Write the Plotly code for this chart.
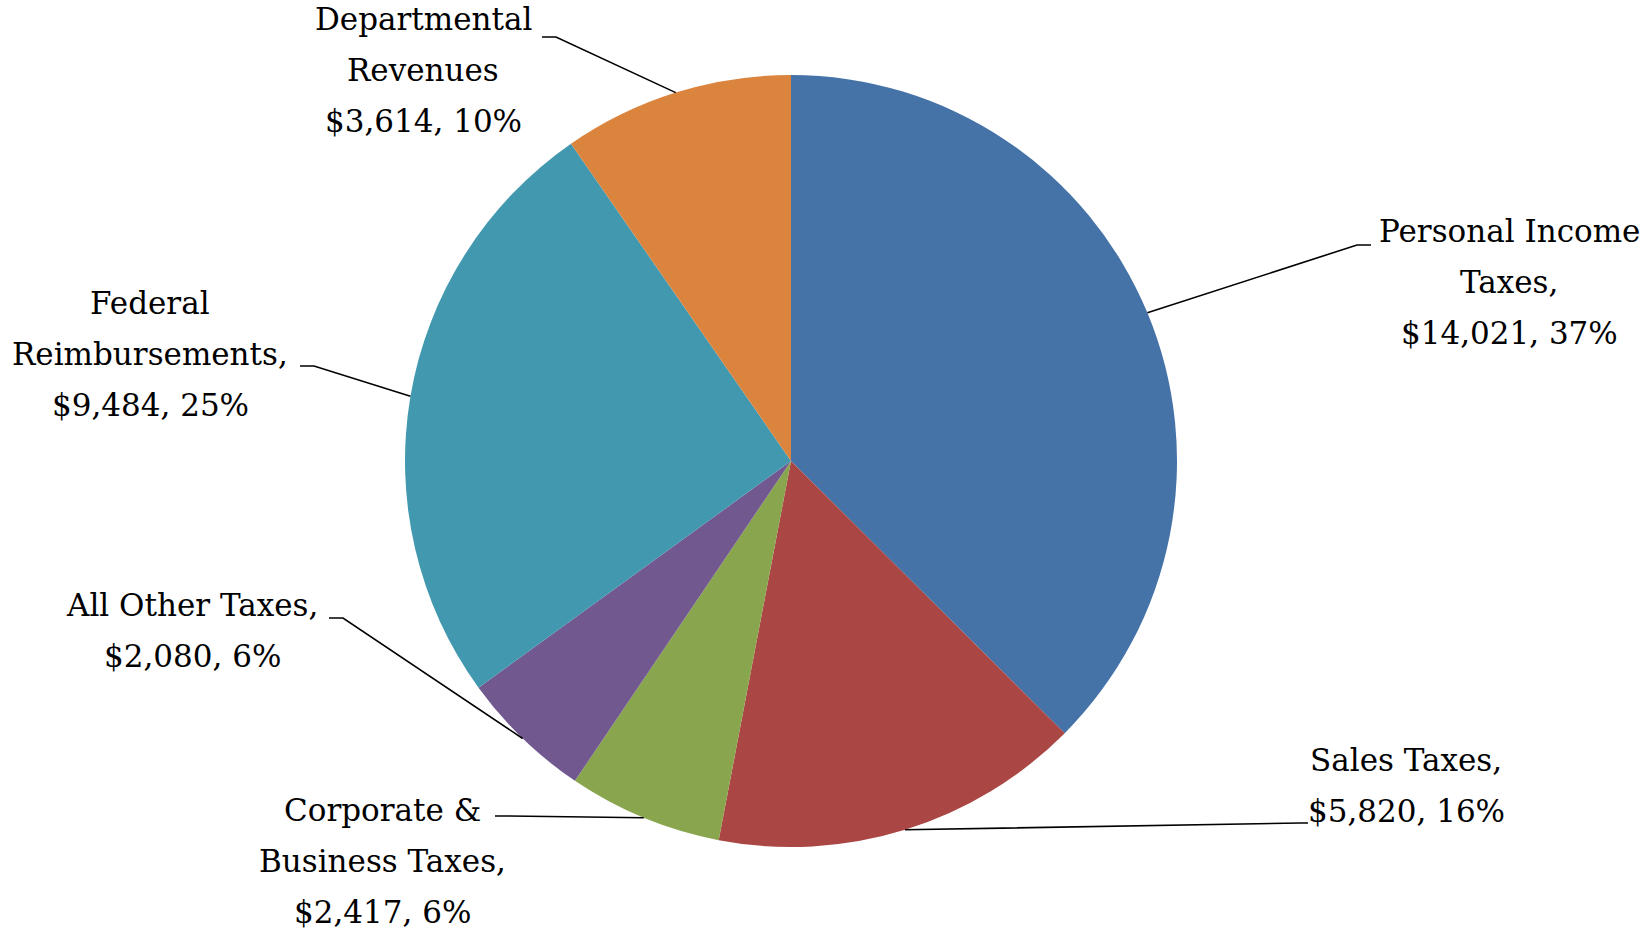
import math

import plotly.graph_objects as go

W, H = 1650, 930

categories = [
    "Personal Income Taxes",
    "Sales Taxes",
    "Corporate & Business Taxes",
    "All Other Taxes",
    "Federal Reimbursements",
    "Departmental Revenues",
]
amounts = [14021, 5820, 2417, 2080, 9484, 3614]
colors = ["#4572A7", "#AA4643", "#89A54E", "#71588F", "#4198AF", "#DB843D"]

# label text split into lines as in the reference
label_lines = [
    ["Personal Income", "Taxes,", "$14,021, 37%"],
    ["Sales Taxes,", "$5,820, 16%"],
    ["Corporate &", "Business Taxes,", "$2,417, 6%"],
    ["All Other Taxes,", "$2,080, 6%"],
    ["Federal", "Reimbursements,", "$9,484, 25%"],
    ["Departmental", "Revenues", "$3,614, 10%"],
]

# layout: pie centre / radius in pixels, label placement and leader elbows
CX, CY, R = 791, 461, 386
LINE_GAP = 51
label_pos = [(1509, 231), (1406, 760), (382, 810), (192, 605), (150, 303), (423, 19)]
elbows = [
    [(1357, 245), (1371, 245)],
    [(1300, 823), (1308, 823)],
    [(509, 816), (495, 816)],
    [(343, 618), (329, 618)],
    [(314, 366), (300, 366)],
    [(556, 37), (542, 37)],
]

FONT = dict(family="DejaVu Serif, Liberation Serif, serif", size=31, color="#000000")


def px(x, y):
    return x / W, 1 - y / H


fig = go.Figure(go.Pie(
    labels=categories,
    values=amounts,
    sort=False,
    direction="clockwise",
    rotation=0,
    textinfo="none",
    hoverinfo="label+value+percent",
    marker=dict(colors=colors, line=dict(width=0)),
    domain=dict(x=[(CX - R) / W, (CX + R) / W], y=[(H - CY - R) / H, (H - CY + R) / H]),
    showlegend=False,
))

total = sum(amounts)
cum = 0
for i, val in enumerate(amounts):
    mid = (cum + val / 2) / total * 2 * math.pi
    cum += val
    ex, ey = CX + R * math.sin(mid), CY - R * math.cos(mid)
    pts = [(ex, ey)] + elbows[i]
    path = "M " + " L ".join(f"{px(x, y)[0]:.5f},{px(x, y)[1]:.5f}" for x, y in pts)
    fig.add_shape(type="path", path=path, xref="paper", yref="paper",
                  line=dict(color="#000000", width=1.6))

    lx, ly = label_pos[i]
    for k, line in enumerate(label_lines[i]):
        ax, ay = px(lx, ly + k * LINE_GAP)
        fig.add_annotation(x=ax, y=ay, xref="paper", yref="paper", text=line,
                           showarrow=False, xanchor="center", yanchor="middle", font=FONT)

fig.update_layout(
    width=W, height=H,
    margin=dict(l=0, r=0, t=0, b=0),
    paper_bgcolor="white",
    plot_bgcolor="white",
)
# drop the default 8px page margin so the figure fills the window exactly
fig.write_html("out.html", config={"displayModeBar": False},
               post_script="document.body.style.margin='0px';")
